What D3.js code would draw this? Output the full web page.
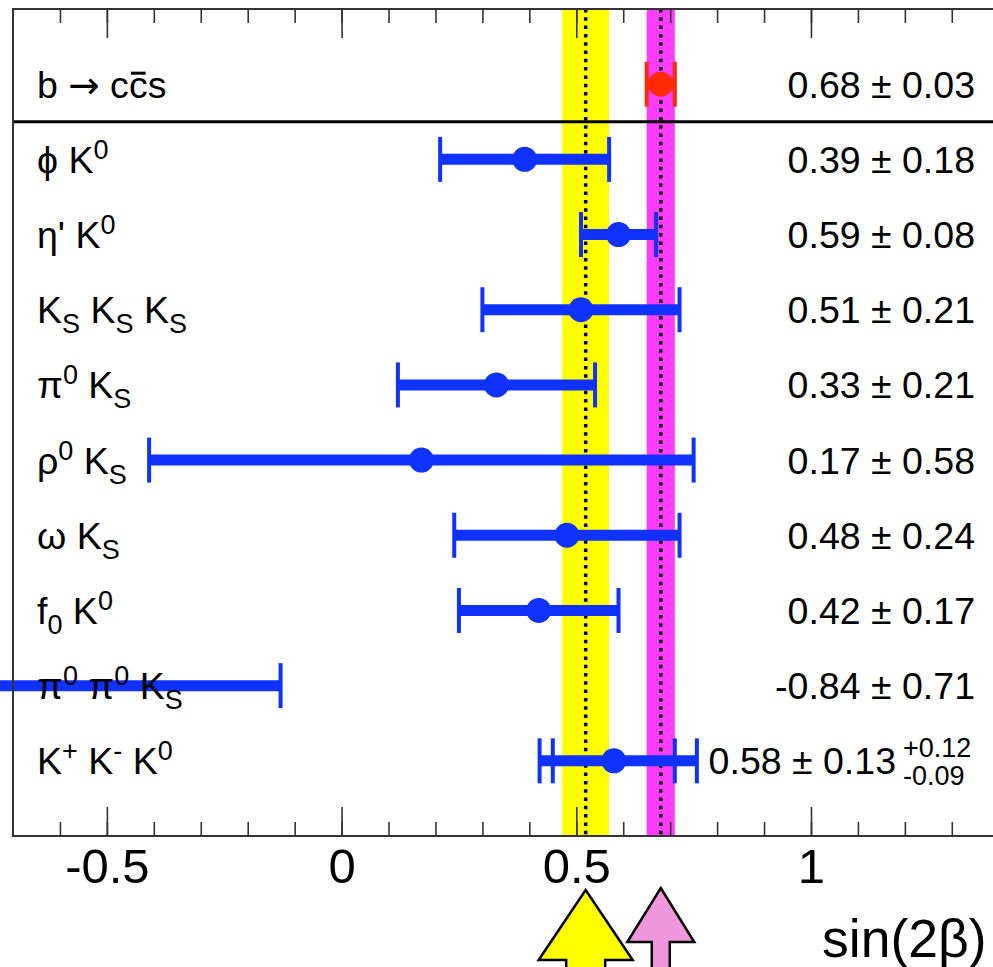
<!DOCTYPE html>
<html>
<head>
<meta charset="utf-8">
<script src="https://d3js.org/d3.v7.min.js"></script>
<style>
  body { margin: 0; background: #fff; }
  svg { display: block; font-family: 'Liberation Sans', Arial, sans-serif; }
  .tick line { stroke: #333; stroke-width: 1.6px; }
  .tick text { font-size: 49px; fill: #000; }
  .lbl, .val { font-size: 37.5px; fill: #000; }
</style>
</head>
<body>
<script>

// decay modes, top to bottom (ROOT-like markup: ^{} super, _{} sub, #bar{} overline, #arrow)
var labels = ["b #arrow c#bar{c}s", "ϕ K^{0}", "η' K^{0}", "K_{S} K_{S} K_{S}", "π^{0} K_{S}",
              "ρ^{0} K_{S}", "ω K_{S}", "f_{0} K^{0}", "π^{0} π^{0} K_{S}", "K^{+} K^{-} K^{0}"];
var values  = [0.68, 0.39, 0.59, 0.51, 0.33, 0.17, 0.48, 0.42, -0.84, 0.58];
var statErr = [0.03, 0.18, 0.08, 0.21, 0.21, 0.58, 0.24, 0.17, 0.71, 0.13];
var systUp   = [0, 0, 0, 0, 0, 0, 0, 0, 0, 0.12];
var systDown = [0, 0, 0, 0, 0, 0, 0, 0, 0, 0.09];

// averages shown as bands + arrows: penguin average, charmonium
var bandMeans  = [0.52, 0.68];
var bandErrs   = [0.05, 0.03];
var bandColors = ["#ffff00", "#ff3dff"];
var arrowColors = ["#ffff00", "#f096dc"];

var majorTicks = [-0.5, 0, 0.5, 1];
var tickLabels = ["-0.5", "0", "0.5", "1"];
var minorTicks = d3.range(-6, 15).map(function(d) { return d / 10; });

var width = 993, height = 967;
var frame = {left: 13, top: 9, bottom: 836};

var svg = d3.select("body").append("svg")
  .attr("width", width)
  .attr("height", height);

var x = d3.scaleLinear()
  .domain([-0.7, 1.45])
  .range([frame.left, frame.left + 469.4 * 2.15]);

// 10 rows + half a row of padding on each side
var y = d3.scaleLinear()
  .domain([0, 11])
  .range([frame.bottom, frame.top]);

function rowY(i) { return y(10 - i); }

var fmt = d3.formatLocale({decimal: ".", thousands: ",", grouping: [3], currency: ["", ""], minus: "-"}).format(".2f");

//////////////////////////// bands ////////////////////////////
bandMeans.forEach(function(m, k) {
  svg.append("rect")
    .attr("x", x(m - bandErrs[k]))
    .attr("width", x(m + bandErrs[k]) - x(m - bandErrs[k]))
    .attr("y", y(11))
    .attr("height", y(0) - y(11))
    .style("fill", bandColors[k]);
});
bandMeans.forEach(function(m) {
  svg.append("line")
    .attr("x1", x(m)).attr("x2", x(m))
    .attr("y1", y(11)).attr("y2", y(0))
    .style("stroke", "#000")
    .style("stroke-width", 3.5)
    .style("stroke-dasharray", "3.5,4.8");
});

//////////////////////////// error bars ////////////////////////////
var rows = values.map(function(v, i) {
  return {
    i: i, v: v, stat: statErr[i],
    lo: Math.sqrt(statErr[i] * statErr[i] + systDown[i] * systDown[i]),
    hi: Math.sqrt(statErr[i] * statErr[i] + systUp[i] * systUp[i]),
    syst: systUp[i] > 0,
    color: i === 0 ? "#ff2a00" : "#0f32ff"
  };
});

var bars = svg.append("g");
rows.forEach(function(d) {
  var cy = rowY(d.i);
  bars.append("line")
    .attr("x1", x(d.v - d.lo)).attr("x2", x(d.v + d.hi))
    .attr("y1", cy).attr("y2", cy)
    .style("stroke", d.color).style("stroke-width", 11);
  var caps = [d.v - d.lo, d.v + d.hi];
  if (d.syst) caps.push(d.v - d.stat, d.v + d.stat);
  caps.forEach(function(c) {
    bars.append("line")
      .attr("x1", x(c)).attr("x2", x(c))
      .attr("y1", cy - 22.5).attr("y2", cy + 22.5)
      .style("stroke", d.color).style("stroke-width", 4);
  });
  bars.append("circle")
    .attr("cx", x(d.v)).attr("cy", cy)
    .attr("r", 12.5)
    .style("fill", d.color);
});

//////////////////////////// labels ////////////////////////////
function richText(sel, str, base, small) {
  var parts = str.match(/(\^\{[^}]*\}|_\{[^}]*\}|#bar\{[^}]*\}|#arrow|[^^_#]+)/g);
  var shift = 0, bars = [], pos = 0;
  parts.forEach(function(p) {
    var t = sel.append("tspan"), dy = 0, size = base, txt = p;
    if (p[0] === "^") { txt = p.slice(2, -1); size = small; dy = -14; }
    else if (p[0] === "_") { txt = p.slice(2, -1); size = small; dy = 10; }
    else if (p === "#arrow") { txt = "→"; t.style("font-family", "DejaVu Sans"); }
    else if (p[0] === "#") { txt = p.slice(5, -1); bars.push(pos); }
    t.attr("dy", dy - shift).style("font-size", size + "px").text(txt);
    pos += txt.length;
    shift = dy;
  });
  // overline just above the x-height of barred characters
  bars.forEach(function(idx) {
    var e = sel.node().getExtentOfChar(idx);
    var yb = +sel.attr("y");
    sel.node().parentNode.appendChild(document.createElementNS("http://www.w3.org/2000/svg", "line"));
    d3.select(sel.node().parentNode.lastChild)
      .attr("x1", e.x + 2).attr("x2", e.x + e.width - 2)
      .attr("y1", yb - base * 0.52 - 5).attr("y2", yb - base * 0.52 - 5)
      .style("stroke", "#000").style("stroke-width", 3);
  });
}

rows.forEach(function(d) {
  var t = svg.append("text").attr("class", "lbl")
    .attr("x", 37).attr("y", rowY(d.i) + 13.5);
  richText(t, labels[d.i], 37.5, 27);
});

rows.forEach(function(d) {
  var cy = rowY(d.i) + 13.5;
  var s = fmt(d.v) + " ± " + fmt(d.stat);
  if (!d.syst) {
    svg.append("text").attr("class", "val")
      .attr("x", 975).attr("y", cy)
      .attr("text-anchor", "end").text(s);
  } else {
    svg.append("text").attr("class", "val")
      .attr("x", 896).attr("y", cy)
      .attr("text-anchor", "end").text(s);
    svg.append("text").attr("x", 903).attr("y", cy - 17)
      .style("font-size", "27px").text("+" + fmt(systUp[d.i]));
    svg.append("text").attr("x", 903).attr("y", cy + 11)
      .style("font-size", "27px").text("-" + fmt(systDown[d.i]));
  }
});

// separator under the b -> ccs row
svg.append("line")
  .attr("x1", frame.left).attr("x2", width)
  .attr("y1", y(9.5)).attr("y2", y(9.5))
  .style("stroke", "#000").style("stroke-width", 3);

//////////////////////////// frame + axes ////////////////////////////
svg.append("path")
  .attr("d", "M" + width + "," + frame.top + "H" + frame.left + "V" + frame.bottom + "H" + width)
  .style("fill", "none").style("stroke", "#333").style("stroke-width", 2);

function addAxis(axis, ty) {
  svg.append("g").attr("transform", "translate(0," + ty + ")").call(axis)
    .call(function(g) { g.select(".domain").remove(); });
}
addAxis(d3.axisBottom(x).tickValues(minorTicks).tickSize(-14).tickFormat(""), frame.bottom);
addAxis(d3.axisBottom(x).tickValues(majorTicks).tickSize(-29).tickPadding(12)
  .tickFormat(function(d, i) { return tickLabels[i]; }), frame.bottom);
addAxis(d3.axisTop(x).tickValues(minorTicks).tickSize(-14).tickFormat(""), frame.top);
addAxis(d3.axisTop(x).tickValues(majorTicks).tickSize(-29).tickFormat(""), frame.top);

svg.append("text")
  .attr("x", 822).attr("y", 957)
  .style("font-size", "53.5px")
  .text("sin(2β)");

//////////////////////////// arrows ////////////////////////////
var arrowDims = [
  {tip: 890, base: 960, head: 47, shaft: 19.5},
  {tip: 888, base: 942, head: 33.5, shaft: 9}
];
bandMeans.forEach(function(m, k) {
  var a = arrowDims[k], cx = x(m), bottom = height + 10;
  var pts = [[cx, a.tip], [cx + a.head, a.base], [cx + a.shaft, a.base], [cx + a.shaft, bottom],
             [cx - a.shaft, bottom], [cx - a.shaft, a.base], [cx - a.head, a.base]];
  svg.append("polygon")
    .attr("points", pts.map(function(p) { return p.join(","); }).join(" "))
    .style("fill", arrowColors[k])
    .style("stroke", "#000").style("stroke-width", 2.5)
    .style("stroke-linejoin", "miter");
});

</script>
</body>
</html>
